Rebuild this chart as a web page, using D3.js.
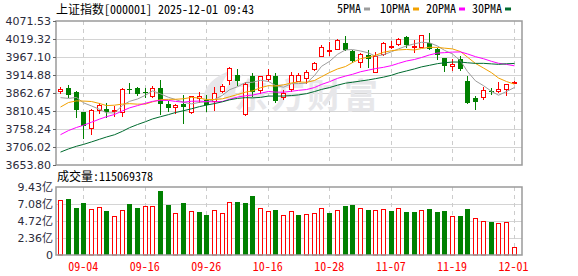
<!DOCTYPE html>
<html lang="zh-CN">
<head>
<meta charset="utf-8">
<title>上证指数 日K</title>
<script src="https://cdn.jsdelivr.net/npm/d3@7"></script>
<style>
  body { margin:0; background:#fff; }
  svg text { font-family:"Noto Sans Mono CJK SC","Noto Sans CJK SC",monospace; }
  .yaxis text, .vaxis text { font-family:"DejaVu Sans",sans-serif; fill:#2b2b3b; }
</style>
</head>
<body>
<script>

//Trading days shown
var dates = ["09-01","09-02","09-03","09-04","09-05","09-08","09-09","09-10","09-11","09-12",
             "09-15","09-16","09-17","09-18","09-19","09-22","09-23","09-24","09-25","09-26",
             "09-29","09-30","10-09","10-10","10-13","10-14","10-15","10-16","10-17","10-20",
             "10-21","10-22","10-23","10-24","10-27","10-28","10-29","10-30","10-31","11-03",
             "11-04","11-05","11-06","11-07","11-10","11-11","11-12","11-13","11-14","11-17",
             "11-18","11-19","11-20","11-21","11-24","11-25","11-26","11-27","11-28","12-01"];

var opens = [3869.5,3877.1,3865.6,3807.6,3762.0,3813.4,3816.3,3809.6,3808.4,3874.3,
             3877.2,3866.0,3854.0,3877.2,3830.8,3822.9,3830.8,3806.7,3849.5,3841.5,
             3838.6,3869.3,3900.4,3914.9,3800.9,3912.0,3871.4,3902.4,3912.0,3850.0,
             3873.4,3898.3,3905.3,3932.3,3970.9,3986.5,3991.2,4006.8,3984.5,3953.5,
             3973.8,3924.5,3974.9,3995.0,4003.9,4024.2,3996.0,3997.0,4008.6,3990.3,
             3963.3,3940.1,3960.4,3897.5,3849.0,3851.9,3868.5,3869.3,3873.4,3892.5];

var highs = [3880.9,3885.9,3868.5,3808.5,3817.1,3832.8,3832.8,3824.9,3876.0,3892.5,
             3880.9,3877.2,3882.9,3900.4,3840.3,3829.9,3856.9,3854.8,3866.5,3856.9,
             3880.9,3887.9,3939.0,3932.3,3895.5,3919.8,3913.0,3932.3,3921.6,3870.0,
             3923.6,3919.8,3929.4,3952.0,4001.9,4010.6,4018.4,4028.9,3987.4,3979.6,
             3987.4,3982.5,4009.7,4012.6,4021.4,4028.0,4016.4,4031.5,4035.9,3992.3,
             3965.1,3960.4,3970.0,3912.0,3854.0,3880.9,3878.0,3894.6,3890.0,3897.5];

var lows = [3862.6,3850.2,3793.9,3733.0,3743.7,3803.8,3792.2,3795.9,3796.8,3863.5,
            3857.7,3851.1,3850.2,3801.7,3811.3,3803.8,3774.8,3806.0,3837.4,3811.3,
            3813.4,3866.5,3887.9,3885.9,3798.9,3854.0,3861.8,3898.3,3837.4,3845.0,
            3869.3,3896.6,3892.5,3929.4,3970.0,3973.8,3990.3,3986.0,3953.5,3939.0,
            3939.0,3924.0,3972.9,3992.3,4001.9,3997.0,3982.5,3996.0,3990.0,3960.4,
            3927.4,3929.4,3929.4,3834.0,3817.1,3845.3,3859.8,3866.5,3856.9,3890.8];

var closes = [3875.53,3858.13,3813.56,3765.88,3812.51,3826.84,3807.29,3812.22,3875.31,3870.60,
              3860.50,3861.87,3876.34,3831.66,3820.09,3828.58,3821.83,3853.64,3853.30,3828.11,
              3862.53,3882.78,3933.97,3897.03,3889.50,3865.23,3912.21,3916.23,3839.76,3863.89,
              3916.33,3913.76,3922.41,3950.31,3996.94,3988.22,4016.33,3986.90,3954.79,3976.52,
              3960.19,3969.25,4007.76,3997.56,4018.60,4002.76,4000.14,4029.50,3990.49,3972.03,
              3939.81,3946.74,3931.05,3834.89,3836.77,3870.02,3864.18,3875.26,3888.60,3895.40];

//volume in 亿 (1e8)
var volumes = [7.59,7.77,6.53,7.18,6.35,6.62,6.07,5.38,6.21,7.04,
               6.53,6.76,6.76,8.88,6.95,5.80,7.22,6.07,5.98,5.57,
               6.21,5.80,7.31,7.36,7.22,8.19,6.49,6.07,6.26,5.52,
               6.07,5.52,5.66,5.80,6.49,5.80,6.21,6.76,6.90,6.49,
               6.21,6.21,6.35,6.07,6.49,5.93,5.93,6.21,6.35,5.93,
               6.07,5.38,5.38,6.35,5.11,4.78,4.55,4.42,4.51,1.15069378];

//closes before 09-01, only used to start the moving averages
var earlierCloses = [3581.86,3582.30,3605.73,3593.66,3597.94,3609.71,3615.72,3573.21,3559.95,
                     3583.31,3617.60,3633.99,3639.67,3635.13,3647.55,3665.92,3683.46,3666.44,3696.77,
                     3728.03,3727.29,3766.21,3771.10,3825.76,3883.56,3868.38,3800.35,3843.60,3857.93];

var priceTicks = [3653.80,3706.02,3758.24,3810.45,3862.67,3914.88,3967.10,4019.32,4071.53];
var volTicks = [0,2.3575,4.715,7.0725,9.43];
var volTickLabels = ["0","2.36亿","4.72亿","7.08亿","9.43亿"];
var labelDates = ["09-04","09-16","09-26","10-16","10-28","11-07","11-19","12-01"];
var maPeriods = [5,10,20,30];
var maNames = ["5PMA","10PMA","20PMA","30PMA"];

var title = "上证指数[000001] 2025-12-01 09:43";
var volTitle = "成交量:115069378";

//Layout
var w = 578, h = 276;
var left = 56, right = 522;
var mainTop = 21, mainBottom = 165;
var volTop = 187, volBottom = 255;
var maColors = ["#9d9d9d","#f2a100","#ff00ff","#006b2f"];
var upColor = "#ff0000", downColor = "#008000";

var svg = d3.select("body").append("svg")
            .attr("width", w)
            .attr("height", h);

var xScale = d3.scaleBand().domain(dates).range([56.4, 517.4]);
var yScale = d3.scaleLinear().domain([3653.80, 4071.53]).range([mainBottom, mainTop]);
var vScale = d3.scaleLinear().domain([0, 9.43]).range([volBottom, volTop]);

var cx = function(d) { return Math.round(xScale(d) + xScale.bandwidth() / 2); };

var data = dates.map(function(d, i) {
	return { date: d, o: opens[i], h: highs[i], l: lows[i], c: closes[i], v: volumes[i],
	         prev: i ? closes[i - 1] : earlierCloses[earlierCloses.length - 1] };
});

//Grid lines
svg.append("g").selectAll("line")
   .data(priceTicks.slice(1, -1))
   .enter().append("line")
   .attr("x1", left).attr("x2", right)
   .attr("y1", function(d) { return Math.round(yScale(d)) + 0.5; })
   .attr("y2", function(d) { return Math.round(yScale(d)) + 0.5; })
   .attr("stroke", "#d4d4d4");

svg.append("g").selectAll("line")
   .data(volTicks.slice(1, -1))
   .enter().append("line")
   .attr("x1", left).attr("x2", right)
   .attr("y1", function(d) { return Math.round(vScale(d)) + 0.5; })
   .attr("y2", function(d) { return Math.round(vScale(d)) + 0.5; })
   .attr("stroke", "#d4d4d4");

[[mainTop, mainBottom], [volTop, volBottom]].forEach(function(p) {
	svg.append("g").selectAll("line")
	   .data(labelDates)
	   .enter().append("line")
	   .attr("x1", function(d) { return cx(d) + 0.5; })
	   .attr("x2", function(d) { return cx(d) + 0.5; })
	   .attr("y1", p[0]).attr("y2", p[1])
	   .attr("stroke", "#cccccc")
	   .attr("stroke-dasharray", "4,4");
});

//Watermark
var wm = svg.append("g").attr("fill", "#e7e7ea");
wm.append("path")
  .attr("d", "M203,100 C204,86 214,76 232,70 C222,79 219,88 221,100 Z M224,99 C224,88 230,80 243,74 C236,83 234,91 236,99 Z");
wm.append("text")
  .attr("x", 234).attr("y", 108)
  .attr("font-size", 34)
  .attr("font-weight", "bold")
  .attr("textLength", 144)
  .style("font-family", "'Noto Sans CJK SC'")
  .text("东方财富");

//Candles
var candles = svg.append("g").selectAll("g")
                 .data(data)
                 .enter().append("g");

candles.append("line")
       .attr("x1", function(d) { return cx(d.date) + 0.5; })
       .attr("x2", function(d) { return cx(d.date) + 0.5; })
       .attr("y1", function(d) { return Math.round(yScale(d.h)); })
       .attr("y2", function(d) { return Math.round(yScale(d.l)) + 1; })
       .attr("stroke", function(d) { return d.c >= d.o ? upColor : downColor; });

candles.append("rect")
       .attr("x", function(d) { return d.c >= d.o ? cx(d.date) - 1.5 : cx(d.date) - 2; })
       .attr("width", function(d) { return d.c >= d.o ? 4 : 5; })
       .attr("y", function(d) {
           var t = Math.round(yScale(Math.max(d.o, d.c)));
           return d.c >= d.o ? t + 0.5 : t;
       })
       .attr("height", function(d) {
           var hh = Math.round(yScale(Math.min(d.o, d.c))) - Math.round(yScale(Math.max(d.o, d.c)));
           return Math.max(hh, 1);
       })
       .attr("fill", function(d) { return d.c >= d.o ? "#ffffff" : downColor; })
       .attr("stroke", function(d) { return d.c >= d.o ? upColor : "none"; });

//Moving averages
var allCloses = earlierCloses.concat(closes);
var offset = earlierCloses.length;
maPeriods.forEach(function(n, k) {
	var ma = dates.map(function(d, i) {
		return { date: d, v: d3.mean(allCloses.slice(i + offset - n + 1, i + offset + 1)) };
	});
	svg.append("path")
	   .datum(ma)
	   .attr("fill", "none")
	   .attr("stroke", maColors[k])
	   .attr("stroke-width", 1)
	   .attr("d", d3.line()
	                .x(function(d) { return cx(d.date) + 0.5; })
	                .y(function(d) { return yScale(d.v); }));
});

//Volume bars
svg.append("g").selectAll("rect")
   .data(data)
   .enter().append("rect")
   .attr("x", function(d) { return d.c >= d.prev ? cx(d.date) - 1.5 : cx(d.date) - 2; })
   .attr("width", function(d) { return d.c >= d.prev ? 4 : 5; })
   .attr("y", function(d) {
       var t = Math.round(vScale(d.v));
       return d.c >= d.prev ? t + 0.5 : t;
   })
   .attr("height", function(d) {
       var t = Math.round(vScale(d.v));
       return d.c >= d.prev ? volBottom - t - 0.5 : volBottom - t;
   })
   .attr("fill", function(d) { return d.c >= d.prev ? "#ffffff" : downColor; })
   .attr("stroke", function(d) { return d.c >= d.prev ? upColor : "none"; });

//Frames
svg.append("rect")
   .attr("x", left).attr("y", mainTop)
   .attr("width", right - left).attr("height", mainBottom - mainTop)
   .attr("fill", "none").attr("stroke", "#9a9a9a").attr("stroke-width", 1.5);
svg.append("rect")
   .attr("x", left).attr("y", volTop)
   .attr("width", right - left).attr("height", volBottom - volTop)
   .attr("fill", "none").attr("stroke", "#9a9a9a").attr("stroke-width", 1.5);

//Axes
svg.append("g")
   .attr("class", "yaxis")
   .attr("transform", "translate(" + left + ",0)")
   .call(d3.axisLeft(yScale).tickValues(priceTicks).tickFormat(d3.format(".2f")).tickSize(3).tickPadding(2))
   .call(function(g) {
       g.select(".domain").remove();
       g.selectAll("line").attr("stroke", "#666");
       g.selectAll("text").attr("font-size", 11);
   });

svg.append("g")
   .attr("class", "vaxis")
   .attr("transform", "translate(" + left + ",0)")
   .call(d3.axisLeft(vScale).tickValues(volTicks)
           .tickFormat(function(d, i) { return volTickLabels[i]; })
           .tickSize(0).tickPadding(3))
   .call(function(g) {
       g.select(".domain").remove();
       g.selectAll("text").attr("font-size", 11);
   });

svg.append("g")
   .attr("transform", "translate(0," + volBottom + ")")
   .call(d3.axisBottom(xScale).tickValues(labelDates).tickSize(0).tickPadding(7))
   .call(function(g) {
       g.select(".domain").remove();
       g.selectAll("text").attr("fill", upColor).attr("font-size", 12)
        .style("font-family", "'Noto Sans Mono CJK SC','Liberation Mono',monospace");
   });

//Titles
svg.append("text")
   .attr("x", 56).attr("y", 13.5)
   .attr("font-size", 12)
   .attr("fill", "#000")
   .text(title);

svg.append("text")
   .attr("x", 57).attr("y", 181)
   .attr("font-size", 12)
   .attr("fill", "#000")
   .text(volTitle);

//Legend
var lx = [337, 380, 426, 472];
maNames.forEach(function(name, k) {
	var t = svg.append("text")
	           .attr("x", lx[k]).attr("y", 12.5)
	           .attr("font-size", 12)
	           .attr("fill", "#000")
	           .text(name);
	var tw = t.node().getComputedTextLength();
	svg.append("rect")
	   .attr("x", lx[k] + tw + 3).attr("y", 7.5)
	   .attr("width", 6).attr("height", 3)
	   .attr("fill", maColors[k]);
});

</script>
</body>
</html>
